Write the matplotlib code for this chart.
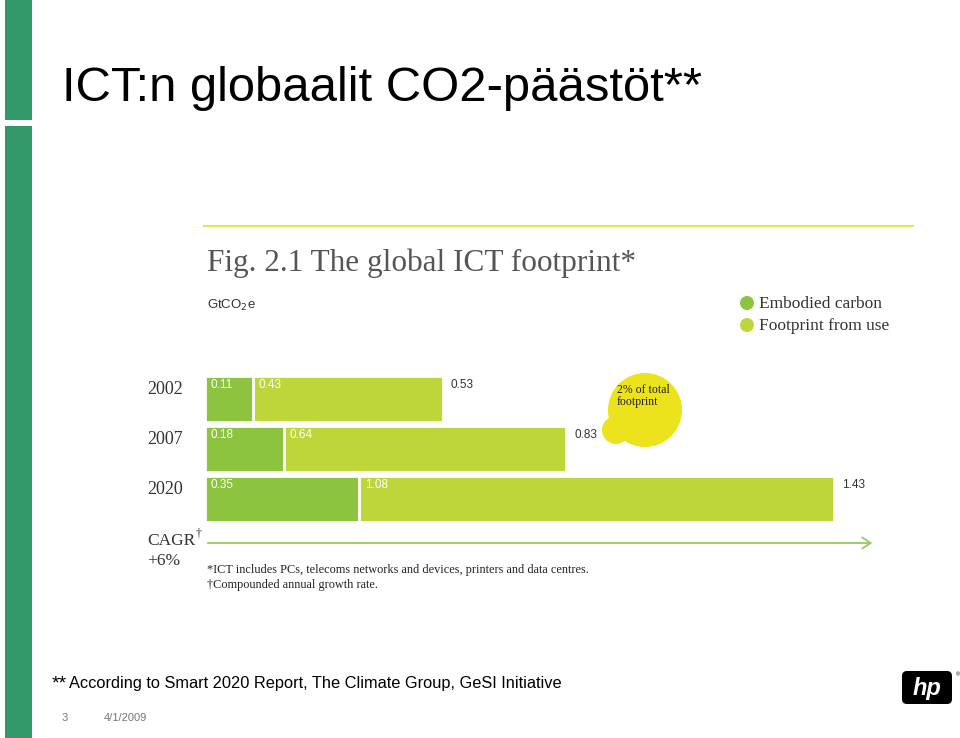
import matplotlib
matplotlib.use("Agg")
import matplotlib.pyplot as plt
from matplotlib.patches import Circle, Rectangle, FancyBboxPatch
from matplotlib.transforms import blended_transform_factory

# data (GtCO2e)
years = ["2002", "2007", "2020"]
embodied = [0.11, 0.18, 0.35]
from_use = [0.43, 0.64, 1.08]
totals = [0.53, 0.83, 1.43]
series_names = ["Embodied carbon", "Footprint from use"]

c_emb = "#8cc43f"
c_use = "#bed63a"
serif = "Liberation Serif"
sans = "Liberation Sans"

W, H = 960, 738
fig = plt.figure(figsize=(W / 100, H / 100), dpi=100)

# overlay axes in pixel coordinates (y down)
ov = fig.add_axes([0, 0, 1, 1])
ov.set_xlim(0, W)
ov.set_ylim(H, 0)
ov.axis("off")

# slide decoration
ov.add_patch(Rectangle((5, 0), 27, 120, color="#33996a", lw=0))
ov.add_patch(Rectangle((5, 126), 27, 612, color="#33996a", lw=0))
ov.text(62, 101, "ICT:n globaalit CO2-päästöt**", family=sans, fontsize=35.3,
        va="baseline", ha="left", color="black")

# figure header
ov.plot([204, 913], [226, 226], color="#e4e64a", lw=1.5)
ov.text(207, 271, "Fig. 2.1 The global ICT footprint*", family=serif, fontsize=22.5,
        color="#555555", va="baseline")
ov.text(207, 309, "GtCO$_2$e", family=sans, fontsize=9.5, color="#333333", va="baseline")

# legend blobs
for yy, col, name in zip([303, 325], [c_emb, c_use], series_names):
    ov.add_patch(Circle((747, yy), 7, color=col, lw=0))
    ov.text(759, yy + 5, name, family=serif, fontsize=12.5, color="#333333", va="baseline")

# yellow bubble
ov.add_patch(Circle((645, 410), 37, color="#ede31c", lw=0))
ov.add_patch(Circle((616, 430), 14, color="#ede31c", lw=0))
ov.text(617, 405, "2% of total\nfootprint", family=serif, fontsize=8.5,
        color="#222222", va="baseline", linespacing=1.0)

# bar axes
ax = fig.add_axes([205 / W, 1 - 524 / H, 670 / W, 150 / H])
ax.patch.set_alpha(0)
ax.set_xlim(0, 670 / 440)
ax.set_ylim(2.5, -0.5)
ax.axis("off")

ypos = list(range(len(years)))
ax.barh(ypos, embodied, height=0.92, color=c_emb, edgecolor="white", lw=2)
ax.barh(ypos, from_use, left=embodied, height=0.92, color=c_use, edgecolor="white", lw=2)

tx = blended_transform_factory(ov.transData, ax.transData)
for i, yr in enumerate(years):
    ax.text(147, i - 0.2, yr, transform=tx, family=serif, fontsize=13, color="#333333",
            va="center", ha="left")
    ax.annotate(f"{embodied[i]:.2f}", (0, i - 0.27), xytext=(4, 0), textcoords="offset points",
                family=sans, fontsize=8.5, color="white", va="center")
    ax.annotate(f"{from_use[i]:.2f}", (embodied[i], i - 0.27), xytext=(4, 0),
                textcoords="offset points", family=sans, fontsize=8.5, color="white", va="center")
    ax.annotate(f"{totals[i]:.2f}", (embodied[i] + from_use[i], i - 0.27), xytext=(6, 0),
                textcoords="offset points", family=sans, fontsize=8.5, color="#333333",
                va="center")

# CAGR arrow across the full bar area
ax_px = blended_transform_factory(ax.transAxes, ov.transData)
ov.annotate("", xy=(1, 543), xytext=(0, 543), xycoords=ax_px, textcoords=ax_px,
            arrowprops=dict(arrowstyle="->,head_length=0.6,head_width=0.4",
                            color="#98c862", lw=1.3))
ov.text(147, 545, "CAGR", family=serif, fontsize=12.5, color="#333333", va="baseline")
ov.text(196, 537, "\u2020", family=serif, fontsize=8.5, color="#333333", va="baseline")
ov.text(147, 565, "+6%", family=serif, fontsize=12.5, color="#333333", va="baseline")

ov.text(207, 573, "*ICT includes PCs, telecoms networks and devices, printers and data centres.",
        family=serif, fontsize=8.8, color="#222222", va="baseline")
ov.text(207, 588, "\u2020Compounded annual growth rate.", family=serif, fontsize=8.8,
        color="#222222", va="baseline")

# footer
ov.text(52, 688, "**", family=sans, fontsize=14, color="black", va="baseline")
ov.text(69, 688, "According to Smart 2020 Report, The Climate Group, GeSI Initiative",
        family=sans, fontsize=11.8, color="black", va="baseline")
ov.text(62, 721, "3", family=sans, fontsize=8, color="#777777", va="baseline")
ov.text(104, 721, "4/1/2009", family=sans, fontsize=8, color="#777777", va="baseline")

# hp logo
ov.add_patch(FancyBboxPatch((902, 671), 50, 33, boxstyle="round,pad=0,rounding_size=5",
                            color="black", lw=0))
ov.text(927, 688, "hp", family=sans, fontsize=17, style="italic", weight="bold",
        color="white", ha="center", va="center")
ov.text(958, 675, "\u00ae", family=sans, fontsize=4, color="black", ha="center", va="center")

fig.savefig("out.png", dpi=100)
